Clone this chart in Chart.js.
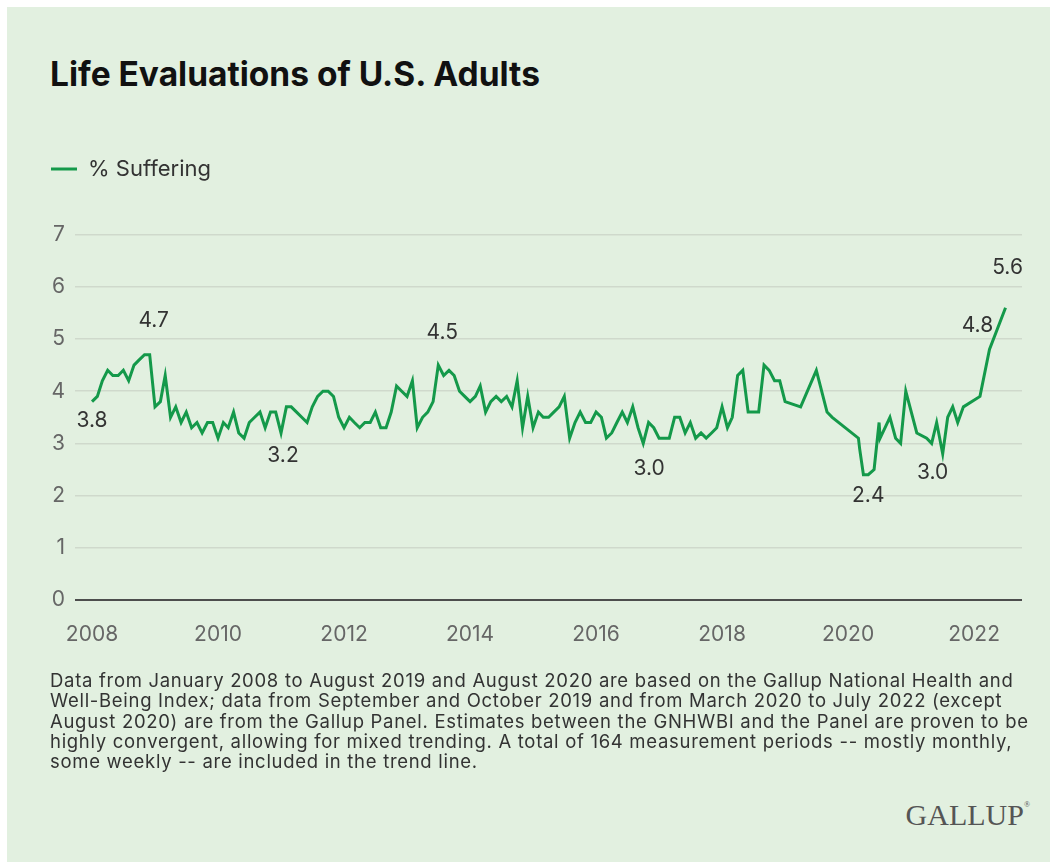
<!DOCTYPE html>
<html>
<head>
<meta charset="utf-8">
<title>Life Evaluations of U.S. Adults</title>
<script src="https://cdn.jsdelivr.net/npm/chart.js@4.4.1/dist/chart.umd.min.js"></script>
<style>
  html, body { margin: 0; padding: 0; background: #fff; }
  #panel { position: absolute; left: 7px; top: 7px; width: 1043px; height: 855px; background: #e2f0e0; font-family: Inter, "Noto Sans", sans-serif; color: #333; }
  #title { position: absolute; left: 43px; top: 51px; margin: 0; font-size: 33.5px; line-height: 1; font-weight: 700; color: #111; }
  #chartBox { position: absolute; left: 0; top: 133px; width: 1043px; height: 530px; }
  #note { position: absolute; left: 43px; top: 663px; font-size: 18.5px; line-height: 20.3px; letter-spacing: 0.7px; color: #333; white-space: nowrap; }
  #brand { position: absolute; right: 20px; top: 793px; font-family: "Liberation Serif", serif; font-size: 30px; line-height: 1; color: #555; }
  #brand sup { font-size: 8px; vertical-align: 18px; }
</style>
</head>
<body>
<div id="panel">
  <h1 id="title">Life Evaluations of U.S. Adults</h1>
  <div id="chartBox"><canvas id="lifeChart"></canvas></div>
  <div id="note">
    Data from January 2008 to August 2019 and August 2020 are based on the Gallup National Health and<br>
    Well-Being Index; data from September and October 2019 and from March 2020 to July 2022 (except<br>
    August 2020) are from the Gallup Panel. Estimates between the GNHWBI and the Panel are proven to be<br>
    highly convergent, allowing for mixed trending. A total of 164 measurement periods -- mostly monthly,<br>
    some weekly -- are included in the trend line.
  </div>
  <div id="brand">GALLUP<sup>®</sup></div>
</div>

<script>
// monthly readings, Jan 2008 - Dec 2018
const monthlyStart = 2008;
const monthly = [
  3.8, 3.9, 4.2, 4.4, 4.3, 4.3, 4.4, 4.2, 4.5, 4.6, 4.7, 4.7,
  3.7, 3.8, 4.3, 3.5, 3.7, 3.4, 3.6, 3.3, 3.4, 3.2, 3.4, 3.4,
  3.1, 3.4, 3.3, 3.6, 3.2, 3.1, 3.4, 3.5, 3.6, 3.3, 3.6, 3.6,
  3.2, 3.7, 3.7, 3.6, 3.5, 3.4, 3.7, 3.9, 4.0, 4.0, 3.9, 3.5,
  3.3, 3.5, 3.4, 3.3, 3.4, 3.4, 3.6, 3.3, 3.3, 3.6, 4.1, 4.0,
  3.9, 4.2, 3.3, 3.5, 3.6, 3.8, 4.5, 4.3, 4.4, 4.3, 4.0, 3.9,
  3.8, 3.9, 4.1, 3.6, 3.8, 3.9, 3.8, 3.9, 3.7, 4.2, 3.3, 3.9,
  3.3, 3.6, 3.5, 3.5, 3.6, 3.7, 3.9, 3.1, 3.4, 3.6, 3.4, 3.4,
  3.6, 3.5, 3.1, 3.2, 3.4, 3.6, 3.4, 3.7, 3.3, 3.0, 3.4, 3.3,
  3.1, 3.1, 3.1, 3.5, 3.5, 3.2, 3.4, 3.1, 3.2, 3.1, 3.2, 3.3,
  3.7, 3.3, 3.5, 4.3, 4.4, 3.6, 3.6, 3.6, 4.5, 4.4, 4.2, 4.2
];

// 2019 onward: irregular periods (weekly in spring 2020)
const laterDates = [
  '2019-01-01', '2019-04-01', '2019-07-01', '2019-09-01', '2019-10-01',
  '2020-03-01', '2020-03-08', '2020-03-30', '2020-04-27', '2020-05-31',
  '2020-06-29', '2020-07-05', '2020-08-31', '2020-10-03', '2020-11-01',
  '2020-12-01', '2021-02-03', '2021-04-01', '2021-04-30', '2021-05-29',
  '2021-07-03', '2021-08-01', '2021-08-30', '2021-09-28', '2021-10-31',
  '2022-02-04', '2022-03-31', '2022-07-02'
];
const laterValues = [
  3.8, 3.7, 4.4, 3.6, 3.5,
  3.1, 2.9, 2.4, 2.4, 2.5,
  3.4, 3.1, 3.5, 3.1, 3.0,
  4.0, 3.2, 3.1, 3.0, 3.4,
  2.8, 3.5, 3.7, 3.4, 3.7,
  3.9, 4.8, 5.6
];

const yearTicks = [2008, 2010, 2012, 2014, 2016, 2018, 2020, 2022];

// periods that get a value label
const callouts = ['2008-01-01', '2008-12-01', '2011-01-01', '2013-07-01', '2016-10-01',
                  '2020-04-27', '2021-04-30', '2022-03-31', '2022-07-02'];

function toYear(s) {
  const [y, m, d] = s.split('-').map(Number);
  const start = Date.UTC(y, 0, 1);
  const len = Date.UTC(y + 1, 0, 1) - start;
  return y + (Date.UTC(y, m - 1, d) - start) / len;
}

const periods = monthly.map((_, i) => {
  const y = monthlyStart + Math.floor(i / 12);
  const m = String(i % 12 + 1).padStart(2, '0');
  return `${y}-${m}-01`;
}).concat(laterDates);
const values = monthly.concat(laterValues);
const points = periods.map((p, i) => ({ x: toYear(p), y: values[i] }));

const GREEN = '#14994a';
const FONT = 'Inter, "Noto Sans", sans-serif';

// keep the legend band a fixed height so the plot starts where it should
const legendBand = {
  id: 'legendBand',
  beforeLayout(chart) {
    const lg = chart.legend;
    if (lg && !lg._banded) {
      const fit = lg.fit;
      lg.fit = function () { fit.call(this); this.height = 86.6; };
      lg._banded = true;
    }
  }
};

// value labels next to selected points
const labelOffsets = [[0, 19], [4, -34], [2, 23], [4, -32], [6, 25], [0, 21], [1, 29], [-12, -24], [2, -40]];
const valueLabels = {
  id: 'valueLabels',
  afterDatasetsDraw(chart) {
    const { ctx } = chart;
    const meta = chart.getDatasetMeta(0);
    ctx.save();
    ctx.font = '21px ' + FONT;
    ctx.fillStyle = '#333';
    ctx.textAlign = 'center';
    ctx.textBaseline = 'middle';
    callouts.forEach((key, k) => {
      const idx = periods.indexOf(key);
      if (idx < 0) return;
      const pt = meta.data[idx];
      const [dx, dy] = labelOffsets[k];
      ctx.fillText(values[idx].toFixed(1), pt.x + dx, pt.y + dy);
    });
    ctx.restore();
  }
};

new Chart(document.getElementById('lifeChart'), {
  type: 'line',
  data: {
    datasets: [{
      label: '% Suffering',
      data: points,
      borderColor: GREEN,
      backgroundColor: GREEN,
      borderWidth: 3,
      pointRadius: 0,
      tension: 0,
      fill: false
    }]
  },
  options: {
    responsive: true,
    maintainAspectRatio: false,
    animation: false,
    layout: { padding: { left: 34, right: 28, top: 8, bottom: 0 } },
    plugins: {
      legend: {
        display: true,
        position: 'top',
        align: 'start',
        labels: {
          usePointStyle: true,
          pointStyle: 'line',
          pointStyleWidth: 26,
          padding: 10,
          color: '#333',
          font: { family: FONT, size: 22 }
        }
      },
      tooltip: { enabled: false }
    },
    scales: {
      x: {
        type: 'linear',
        min: 2007.73,
        max: 2022.76,
        grid: { display: false },
        border: { display: false },
        afterBuildTicks(scale) { scale.ticks = yearTicks.map(v => ({ value: v })); },
        afterFit(scale) { scale.height = 70; },
        ticks: {
          autoSkip: false,
          maxRotation: 0,
          padding: 14,
          color: '#666',
          font: { family: FONT, size: 21 },
          callback: v => String(v)
        }
      },
      y: {
        min: 0,
        max: 7,
        border: { display: false },
        afterFit(scale) { scale.width = 34; },
        grid: {
          drawTicks: false,
          color: c => c.tick.value === 0 ? '#4d4d4d' : '#cfd9cc',
          lineWidth: c => c.tick.value === 0 ? 2 : 1.5
        },
        ticks: {
          stepSize: 1,
          padding: 10,
          color: '#666',
          font: { family: FONT, size: 21 }
        }
      }
    }
  },
  plugins: [legendBand, valueLabels]
});
</script>
</body>
</html>
